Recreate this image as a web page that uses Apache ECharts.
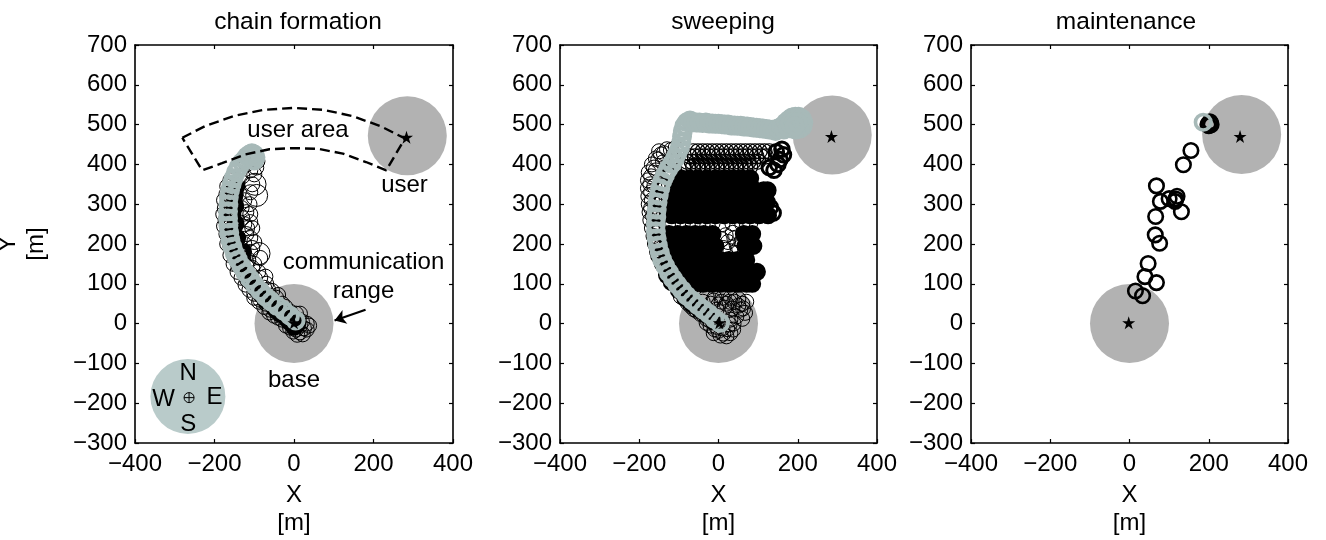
<!DOCTYPE html>
<html><head><meta charset="utf-8">
<style>html,body{margin:0;padding:0;background:#fff}#c{width:1326px;height:540px}</style>
<script src="https://cdn.jsdelivr.net/npm/echarts@6/dist/echarts.min.js"></script>
</head><body><div id="c"></div>
<script>
const panelTitles = ['chain formation','sweeping','maintenance'];
const discs1 = [[0,0],[285,472]];
const discs2 = [[0,0],[287,474]];
const discs3 = [[0,0],[283,475]];
const stars1 = [[0,2],[283,468]];
const stars2 = [[2,2],[285,470]];
const stars3 = [[-2,2],[279,470]];

const thin1 = [[-10,-10],[5,-15],[15,-22],[25,-12],[32,0],[20,5],[12,10],[-2,-20],[-20,-5],[-30,10],[8,-28],[22,-27],[32,-15],[38,-5],[15,-5],[0,5],[-12,15],[-25,25],[-40,15],[-45,30],[-35,35],[-10,30],[-5,22],[5,25],[15,25],[-22,42],
[-60,35],[-55,55],[-70,50],[-75,70],[-85,60],[-60,70],[-45,65],[-90,80],[-100,75],[-108,100],[-75,90],[-65,85],[-85,115],[-118,110],[-125,125],[-110,125],[-90,130],[-140,145],[-120,145],[-100,150],[-85,165],
[-150,170],[-135,175],[-110,180],[-160,195],[-125,200],[-105,190],[-170,225],[-155,230],[-120,225],[-110,215],[-172,260],[-160,265],[-125,250],[-110,255],[-174,290],[-160,300],[-120,280],[-110,275],[-170,325],[-150,340],[-125,310],[-110,330],[-105,350],[-100,375],[-130,370],[-110,385],[-95,392],[-92,408],[-120,400],[-105,415],
[-50,20],[-62,28],[-75,42],[-88,55],[-100,65],[-112,85],[-122,98],[-132,115],[-142,130],[-152,150],[-160,172],[-168,200],[-176,245],[-178,275],[-176,310],[-168,345],[-160,360],
[-30,50],[-40,72],[-55,82],[-70,100],[-72,118],[-98,112],[-105,140],[-115,160],[-128,165],[-100,205],[-118,240],[-105,240],[-112,300],[-130,265],[-132,290]];
const thinLarge1 = [[-88,176],[-94,322],[-98,350]];
const thick1 = [[0,-8],[8,-2],[-12,5],[-20,15],[-35,25],[-48,38],[-55,48],[-70,58],[-82,72],[-96,88],[-106,105],[-120,120],[-128,138],[-140,155],[-146,172],[-128,180],[-150,195],[-143,215],[-156,235],[-147,250],[-155,275],[-148,295],[-150,320],[-145,345]];
const chain1 = [[4,8],[-10,20],[-25,32],[-42,44],[-58,56],[-72,68],[-85,82],[-98,96],[-110,112],[-122,128],[-132,144],[-141,160],[-149,176],[-155,193],[-160,210],[-163,228],[-165,246],[-166,264],[-166,282],[-165,300],[-164,318],[-161,335],[-157,350],[-152,365],[-146,380],[-139,393],[-131,405],[-124,412],[-118,420],[-112,425],[-106,428],[-100,425],[-97,418],[-100,410]];

const thin2 = [[-50,40],[-72,60],[-92,80],[-110,100],[-125,120],[-135,140],[-146,160],[-155,180],[-160,200],[-164,220],[-168,240],[-172,260],[-174,280],[-176,300],[-177,320],[-178,340],[-178,360],[-176,380],[-168,400],[-158,415],[-145,425],[-130,438],[-150,433],[-108,442],
[-150,190],[-156,250],[-160,300],[-162,345],[-158,385],[-140,405],[-170,330],[-168,310],[-170,290],[-165,270],[-163,250],[-160,228],[-156,208],[-150,172],[-142,150],[-130,130],[-118,112],[-100,90],[-85,72],[-170,370],[-172,350],[-163,392],[-152,412],[-138,428],[-120,436],
[-20,-5],[-10,-14],[0,-18],[12,-25],[20,-32],[30,-24],[37,-15],[38,0],[30,10],[5,-30],[-12,-24],[-30,12],[-45,24],[-62,36],[-78,52],[-95,68],[-30,2],[-22,8],[-38,22],[-55,32],[-70,44],[-5,-8],[10,-12],[22,-14],[28,-2],
[-40,55],[-20,50],[0,48],[20,50],[40,55],[60,50],[67,27],[55,35],[35,38],[15,40],[-5,35],[-25,30],[70,55],[50,62],[30,65],[10,65],[-10,65],[-30,68],[45,18],[60,12],[62,38],[50,45],[28,55],[8,55],[-12,58],
[-115,252],[-90,250],[-65,252],[-40,250],[-15,252],[10,250],[35,252],[60,250],[80,252],
[8,212],[24,205],[40,214],[12,190],[30,182],[46,196],[58,206],[18,222],[36,228],[52,190]];
const hatch2 = [[-64,433],[-52,433],[-40,433],[-28,433],[-16,433],[-4,433],[8,433],[20,433],[32,433],[44,433],[56,433],[68,433],[80,433],[92,433],[104,433],[116,433],[128,433],
[-72,420],[-60,420],[-48,420],[-36,420],[-24,420],[-12,420],[0,420],[12,420],[24,420],[36,420],[48,420],[60,420],[72,420],[84,420],[96,420],[108,420],[120,420],
[-80,407],[-68,407],[-56,407],[-44,407],[-32,407],[-20,407],[-8,407],[4,407],[16,407],[28,407],[40,407],[52,407],[64,407],[76,407],[88,407],[100,407],
[-88,394],[-76,394],[-64,394],[-52,394],[-40,394],[-28,394],[-16,394],[-4,394],[8,394],[20,394],[32,394],[44,394],[56,394],[68,394],[80,394]];
const lobes2 = [[138,278],[131,292],[128,392],[140,385],[155,412],[164,424],[150,400],[160,438],[146,432]];
const massY365 = [-95,-73,-51,-29,-7,15,37,59,80];
const massY335 = [-106,-84,-62,-40,-18,4,26,48,70,92,114,124];
const massY305 = [-115,-95,-73,-51,-29,-7,15,37,59,81,103,122];
const massY272 = [-118,-96,-74,-52,-30,-8,14,36,58,80,102,125];
const massY225 = [-125,-103,-81,-59,-37,-15,64,85];
const massY195 = [-118,-96,-74,-52,-30,-8,68,88];
const massY160 = [-128,-106,-84,-62,-40,-18,4,26,48,70];
const massY130 = [-118,-96,-74,-52,-30,-8,14,36,58,80,97];
const massY100 = [-105,-83,-61,-39,-17,5,27,49,71,85];
const massRows = [[365,massY365],[335,massY335],[305,massY305],[272,massY272],[225,massY225],[195,massY195],[160,massY160],[130,massY130],[100,massY100]];
const thick2 = [[-12,5],[-30,22],[-48,36],[-66,48],[-84,64],[-100,84],[-118,104],[-130,122],[-140,150],[-150,172],[-158,205],[-158,240],[-158,275],[-152,310],[-144,345],[-126,380]];
const chain2 = [[4,2],[-10,12],[-24,24],[-38,35],[-52,46],[-66,58],[-80,70],[-92,84],[-104,98],[-115,113],[-125,128],[-134,144],[-142,160],[-148,178],[-153,196],[-156,214],[-158,232],[-158,250],[-157,268],[-156,286],[-154,304],[-151,322],[-147,340],[-142,357],[-135,373],[-127,388],[-118,401],[-110,414],[-104,428],[-98,441],[-94,455],[-92,470],[-90,484],[-86,497],[-80,506],[-72,510],[-64,506],
[-56,505],[-48,505],[-40,504],[-32,505],[-24,503],[-16,503],[-8,502],[0,502],[8,501],[16,500],[24,500],[32,498],[40,498],[48,497],[56,497],[64,495],[72,495],[80,494],[88,493],[96,492],[104,491],[112,490],[120,489],[128,488],[136,487],
[144,484],[150,490],[158,494],[165,488],[170,505],[178,512],[186,518],[194,520],[202,520],[210,515],[214,505],[212,495],[205,490],[195,488],[185,490],[175,495],[180,503],[190,506],[200,505],[192,496]];

const rings3 = [[155,435],[136,399],[68,346],[78,307],[100,314],[120,320],[117,313],[115,307],[131,281],[66,269],[65,223],[76,202],[47,151],[39,118],[68,103],[15,82],[33,70],[198,500],[204,504],[206,500],[200,497],[203,507]];
const chain3 = [[186,506]];

const sectorX = [-281,-222,-150,-76,0,75,149,220,279,232,181,123,62,0,-62,-123,-181,-231,-281];
const sectorY = [467,497,522,537,542,537,521,495,465,385,406,427,439,441,438,425,403,385,467];
const arrowFrom = [180,35];
const arrowTo = [102,8];
const compass = [[-267,-183]];
const compassMark = [[-264,-186]];
const notes = [[10,485,'user area'],[278,347,'user'],[0,-143,'base'],[175,153,'communication'],[175,81,'range'],[-266,-124,'N'],[-328,-191,'W'],[-200,-185,'E'],[-266,-254,'S']];

const xTicks = {min:-400,max:400,interval:200};
const yTicks = {min:-300,max:700,interval:100};
const grids = [{left:135,width:318},{left:560,width:317},{left:971,width:317}];
const FONT = 'Liberation Sans';
const minus = v => String(v).replace('-','\u2212');
const STAR = 'path://M50 0L62 36H100L69 58L81 95L50 72L19 95L31 58L0 36H38Z';
const COMPASS = 'path://M0 10A10 10 0 1 0 20 10A10 10 0 1 0 0 10ZM0 10H20M10 0V20';
const line = {show:true,onZero:false,lineStyle:{color:'#000',width:1.6}};
const tick = {show:true,inside:true,length:4,lineStyle:{color:'#000',width:1.2}};
const xAxis = [], yAxis = [];
const txt = {fontFamily:FONT,fontSize:24,color:'#000'};
grids.forEach((g,i)=>{
  xAxis.push({type:'value',gridIndex:i,...xTicks,position:'bottom',axisLine:line,axisTick:tick,splitLine:{show:false},
    axisLabel:{...txt,margin:9,formatter:minus,showMinLabel:true,showMaxLabel:true,hideOverlap:false},
    name:'X\n[m]',nameLocation:'middle',nameGap:38,nameTextStyle:{...txt,lineHeight:28}});
  yAxis.push({type:'value',gridIndex:i,...yTicks,position:'left',axisLine:line,axisTick:tick,splitLine:{show:false},
    axisLabel:{...txt,margin:8,formatter:minus,showMinLabel:true,showMaxLabel:true,hideOverlap:false},
    ...(i===0?{name:'Y\n[m]',nameLocation:'middle',nameGap:85,nameRotate:90,nameTextStyle:{...txt,lineHeight:28}}:{})});
});
grids.forEach((g,i)=>{
  xAxis.push({type:'value',gridIndex:i,...xTicks,position:'top',axisLine:line,axisTick:tick,axisLabel:{show:false},splitLine:{show:false}});
  yAxis.push({type:'value',gridIndex:i,...yTicks,position:'right',axisLine:line,axisTick:tick,axisLabel:{show:false},splitLine:{show:false}});
});
const rings = (i,data,size,border,color,z)=>({type:'scatter',xAxisIndex:i,yAxisIndex:i,data,symbol:'circle',symbolSize:size,z,silent:true,clip:false,
  itemStyle:{color:'rgba(0,0,0,0)',borderColor:color,borderWidth:border,opacity:1}});
const discs = (i,data,color)=>({type:'scatter',xAxisIndex:i,yAxisIndex:i,data,symbol:'circle',symbolSize:79,z:1,silent:true,itemStyle:{color,opacity:1}});
const stars = (i,data)=>({type:'scatter',xAxisIndex:i,yAxisIndex:i,data,symbol:STAR,symbolSize:13,z:9,silent:true,itemStyle:{color:'#000',opacity:1}});
const GREY='#b2b2b2', TEAL='#a7b9b8';
const mass = massRows.flatMap(([y,xs])=>xs.map(x=>[x,y]));
const series = [
  discs(0,discs1,GREY),discs(1,discs2,GREY),discs(2,discs3,GREY),
  {type:'scatter',xAxisIndex:0,yAxisIndex:0,data:compass,symbol:'circle',symbolSize:75,z:1,silent:true,itemStyle:{color:'#b9cbca',opacity:1}},
  {type:'scatter',xAxisIndex:0,yAxisIndex:0,data:compassMark,symbol:COMPASS,symbolSize:10,z:2,silent:true,itemStyle:{color:'rgba(0,0,0,0)',borderColor:'#000',borderWidth:1,opacity:1}},
  rings(0,thick1,12,6,'#000',3),
  rings(0,thin1,15,1,'#000',4),
  rings(0,thinLarge1,22,1,'#000',4),
  rings(0,chain1,16,4,TEAL,6),
  rings(1,mass,9,9,'#000',3),
  rings(1,thick2,12,6,'#000',3),
  rings(1,lobes2,14.5,3,'#000',3),
  rings(1,thin2,15,1,'#000',4),
  rings(1,hatch2,15,1.2,'#000',4),
  rings(1,chain2,16,4,TEAL,6),
  rings(2,rings3,14.5,2.6,'#000',4),
  rings(2,chain3,15.5,3.6,TEAL,6),
  stars(0,stars1),stars(1,stars2),stars(2,stars3),
  {type:'line',xAxisIndex:0,yAxisIndex:0,data:sectorX.map((x,k)=>[x,sectorY[k]]),symbol:'none',z:7,silent:true,lineStyle:{color:'#000',width:2.4,type:[10,5]},
   markLine:{silent:true,symbol:['none','arrow'],symbolSize:11,animation:false,label:{show:false},lineStyle:{color:'#000',width:2.2,type:'solid'},data:[[{coord:arrowFrom},{coord:arrowTo}]]}},
  {type:'scatter',xAxisIndex:0,yAxisIndex:0,data:notes,symbolSize:0,z:10,silent:true,itemStyle:{opacity:1},
   label:{show:true,position:'inside',formatter:p=>p.value[2],fontFamily:FONT,fontSize:24,color:'#000'}}
];
const chart = echarts.init(document.getElementById('c'),null,{renderer:'canvas'});
chart.setOption({animation:false,backgroundColor:'#fff',
  title:panelTitles.map((t,i)=>({text:t,left:[293,718,1121][i],top:5,textAlign:'center',textStyle:{fontFamily:FONT,fontSize:24.5,fontWeight:'normal',color:'#000'}})),
  grid:grids.map(g=>({left:g.left,width:g.width,top:45,height:398,outerBoundsMode:'none'})),
  xAxis,yAxis,series});
</script></body></html>
